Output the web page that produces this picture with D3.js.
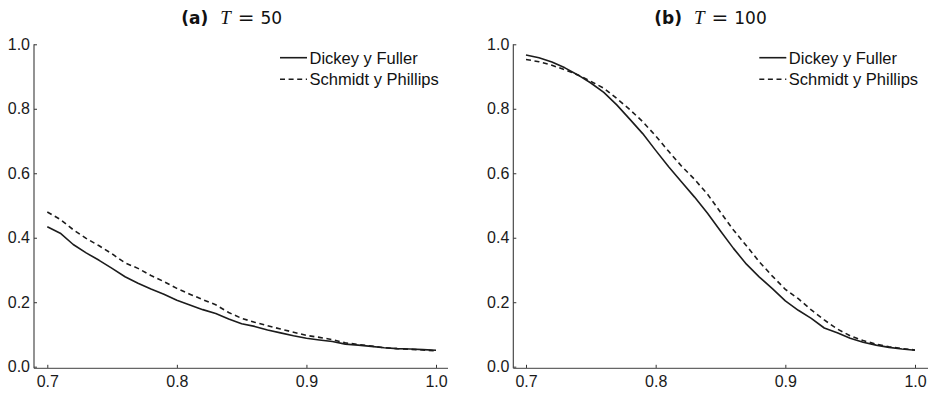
<!DOCTYPE html>
<html>
<head>
<meta charset="utf-8">
<script src="https://cdn.jsdelivr.net/npm/d3@7/dist/d3.min.js"></script>
<style>
  html, body { margin: 0; padding: 0; background: #fff; }
  svg { display: block; }
  .tick text { font-family: "Liberation Sans", Arial, sans-serif; font-size: 16px; fill: #1a1a1a; }
</style>
</head>
<body>
<svg id="chart" width="933" height="394"></svg>
<script>
// Autoregressive coefficient (rho) grid
const rho = [0.70, 0.71, 0.72, 0.73, 0.74, 0.75, 0.76, 0.77, 0.78, 0.79,
             0.80, 0.81, 0.82, 0.83, 0.84, 0.85, 0.86, 0.87, 0.88, 0.89,
             0.90, 0.91, 0.92, 0.93, 0.94, 0.95, 0.96, 0.97, 0.98, 0.99, 1.00];

// Rejection frequencies, T = 50
const dickeyFullerT50 = [0.434, 0.414, 0.379, 0.353, 0.330, 0.305, 0.279, 0.259, 0.241, 0.225,
                         0.206, 0.191, 0.177, 0.165, 0.148, 0.133, 0.125, 0.114, 0.105, 0.096,
                         0.088, 0.083, 0.078, 0.070, 0.067, 0.063, 0.059, 0.056, 0.055, 0.053, 0.051];
const schmidtPhillipsT50 = [0.480, 0.457, 0.425, 0.398, 0.375, 0.350, 0.322, 0.305, 0.283, 0.264,
                            0.243, 0.225, 0.208, 0.192, 0.168, 0.150, 0.138, 0.127, 0.117, 0.107,
                            0.097, 0.091, 0.084, 0.074, 0.069, 0.064, 0.059, 0.056, 0.054, 0.052, 0.049];

// Rejection frequencies, T = 100
const dickeyFullerT100 = [0.967, 0.958, 0.945, 0.927, 0.905, 0.880, 0.851, 0.812, 0.768, 0.723,
                          0.671, 0.620, 0.573, 0.526, 0.476, 0.421, 0.367, 0.318, 0.278, 0.242,
                          0.204, 0.175, 0.150, 0.120, 0.105, 0.088, 0.076, 0.067, 0.060, 0.055, 0.051];
const schmidtPhillipsT100 = [0.953, 0.946, 0.935, 0.921, 0.905, 0.885, 0.864, 0.832, 0.798, 0.760,
                             0.716, 0.668, 0.622, 0.581, 0.535, 0.479, 0.424, 0.375, 0.325, 0.281,
                             0.240, 0.211, 0.176, 0.145, 0.117, 0.096, 0.081, 0.070, 0.062, 0.056, 0.052];

const seriesNames = ["Dickey y Fuller", "Schmidt y Phillips"];
const panelLetters = ["(a)", "(b)"];
const sampleSizes = ["50", "100"];
const xTicks = [0.7, 0.8, 0.9, 1.0];
const yTicks = [0.0, 0.2, 0.4, 0.6, 0.8, 1.0];

const panels = [
  { letter: panelLetters[0], T: sampleSizes[0], series: [dickeyFullerT50, schmidtPhillipsT50],
    axisX: 34, x0: 47.3, x1: 436, axisEnd: 448 },
  { letter: panelLetters[1], T: sampleSizes[1], series: [dickeyFullerT100, schmidtPhillipsT100],
    axisX: 513.3, x0: 526, x1: 915, axisEnd: 928 }
];

const svg = d3.select("#chart");
const y = d3.scaleLinear().domain([0, 1]).range([366.7, 44.3]);
const axisY = 368.3;
const dashes = [null, "5,3.6"];
const ink = "#1c1c1c";

panels.forEach(p => {
  const x = d3.scaleLinear().domain([0.7, 1.0]).range([p.x0, p.x1]);
  const g = svg.append("g");

  // y axis
  const ya = g.append("g")
    .attr("transform", `translate(${p.axisX},0)`)
    .call(d3.axisLeft(y).tickValues(yTicks).tickFormat(d3.format(".1f"))
      .tickSizeInner(-3).tickSizeOuter(0).tickPadding(4));
  ya.select(".domain").remove();
  ya.selectAll(".tick line").attr("stroke", "#333");
  g.append("line")
    .attr("x1", p.axisX).attr("x2", p.axisX)
    .attr("y1", y(1)).attr("y2", axisY)
    .attr("stroke", "#3a3a3a").attr("stroke-width", 1.1);

  // x axis
  const xa = g.append("g")
    .attr("transform", `translate(0,${axisY})`)
    .call(d3.axisBottom(x).tickValues(xTicks).tickFormat(d3.format(".1f"))
      .tickSizeInner(-3.5).tickSizeOuter(0).tickPadding(7));
  xa.select(".domain").remove();
  xa.selectAll(".tick line").attr("stroke", "#333");
  g.append("line")
    .attr("x1", p.axisX).attr("x2", p.axisEnd)
    .attr("y1", axisY).attr("y2", axisY)
    .attr("stroke", "#666").attr("stroke-width", 1.3);

  // curves
  const line = d3.line().x((d, i) => x(rho[i])).y(d => y(d)).curve(d3.curveLinear);
  p.series.forEach((vals, si) => {
    g.append("path")
      .datum(vals)
      .attr("d", line)
      .attr("fill", "none")
      .attr("stroke", ink)
      .attr("stroke-width", 1.6)
      .attr("stroke-linejoin", "round")
      .attr("stroke-dasharray", dashes[si]);
  });

  // legend
  const lg = g.append("g").attr("transform", `translate(${p.axisX + 246},0)`);
  seriesNames.forEach((name, si) => {
    const cy = 57.7 + si * 21.6;
    lg.append("line")
      .attr("x1", 0).attr("x2", 27)
      .attr("y1", cy).attr("y2", cy)
      .attr("stroke", ink).attr("stroke-width", 1.6)
      .attr("stroke-dasharray", dashes[si]);
    lg.append("text")
      .attr("x", 29.5).attr("y", cy + 5.8)
      .attr("font-family", "Liberation Sans, Arial, sans-serif")
      .attr("font-size", 16.5)
      .attr("fill", "#111")
      .text(name);
  });

  // panel title
  const t = g.append("text")
    .attr("x", (p.x0 + p.x1) / 2 - 10)
    .attr("y", 24)
    .attr("text-anchor", "middle")
    .attr("fill", "#111");
  t.append("tspan")
    .attr("font-family", "DejaVu Sans, sans-serif").attr("font-weight", "bold")
    .attr("font-size", 17).text(p.letter);
  t.append("tspan").attr("dx", 12)
    .attr("font-family", "Liberation Serif, serif").attr("font-style", "italic")
    .attr("font-size", 19).text("T");
  t.append("tspan").attr("dx", 7)
    .attr("font-family", "DejaVu Sans, sans-serif")
    .attr("font-size", 20).text("=");
  t.append("tspan").attr("dx", 6)
    .attr("font-family", "DejaVu Sans, sans-serif")
    .attr("font-size", 17).text(p.T);
});
</script>
</body>
</html>
